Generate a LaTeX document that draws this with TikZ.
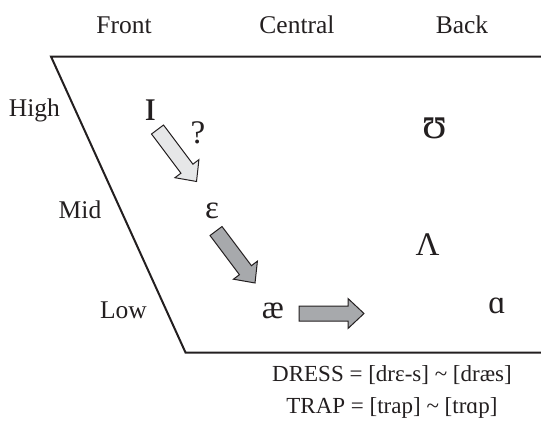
\documentclass[tikz,border=0pt]{standalone}
\usepackage{fontspec}
\setmainfont{Liberation Serif}
\definecolor{ink}{HTML}{231F20}
\definecolor{lightfill}{HTML}{E6E7E8}
\definecolor{darkfill}{HTML}{A7A9AC}
\tikzset{
  lbl/.style={inner sep=0pt, anchor=base, text=ink, font=\fontsize{25.5}{30}\selectfont},
  exm/.style={inner sep=0pt, anchor=base, text=ink, font=\fontsize{23}{28}\selectfont},
  vow/.style={inner sep=0pt, anchor=base, text=ink, font=\fontsize{33}{38}\selectfont},
  bigvow/.style={vow, font=\fontsize{45}{50}\selectfont},
  frame/.style={draw=ink, line width=2pt},
  blockarrow/.pic={\draw[pic actions, draw=ink, line width=1pt, line join=miter]
    (0,-7.5) -- (49,-7.5) -- (49,-15) -- (65,0) -- (49,15) -- (49,7.5) -- (0,7.5) -- cycle;}
}
\begin{document}
\begin{tikzpicture}[x=1pt,y=-1pt]
\useasboundingbox (0,0) rectangle (541,429);
% chart frame
\draw[frame] (545,56.5) -- (51,56.5) -- (185.5,352.5) -- (545,352.5);
% column labels
\node[lbl] (front) at (124,33) {Front};
\node[lbl] (central) at (297,33) {Central};
\node[lbl] (back) at (462,33) {Back};
% row labels
\node[lbl] (high) at (34.5,116) {High};
\node[lbl] (mid) at (80,218) {Mid};
\node[lbl] (low) at (123.5,318) {Low};
% vowels
\node[bigvow] (kit) at (151,120) {ɪ};
\node[vow] (q) at (198,143) {?};
\node[vow] (dress) at (212,218) {ɛ};
\node[vow] (trap) at (273,318) {æ};
\node[bigvow] (foot) at (435,138) {ʊ};
\node[vow] (strut) at (427.5,255) {Λ};
\node[vow] (lot) at (497,313) {ɑ};
% shift arrows
\pic[fill=lightfill, rotate=-53.1] at (157.5,129.5) {blockarrow};
\pic[fill=darkfill, rotate=-53.1] at (216,231) {blockarrow};
\pic[fill=darkfill] at (299,313.5) {blockarrow};
% examples
\node[exm] (ex1) at (392,381) {DRESS = [drɛ-s] \textasciitilde{} [dræs]};
\node[exm] (ex2) at (392,413) {TRAP = [trap] \textasciitilde{} [trɑp]};
\end{tikzpicture}
\end{document}
